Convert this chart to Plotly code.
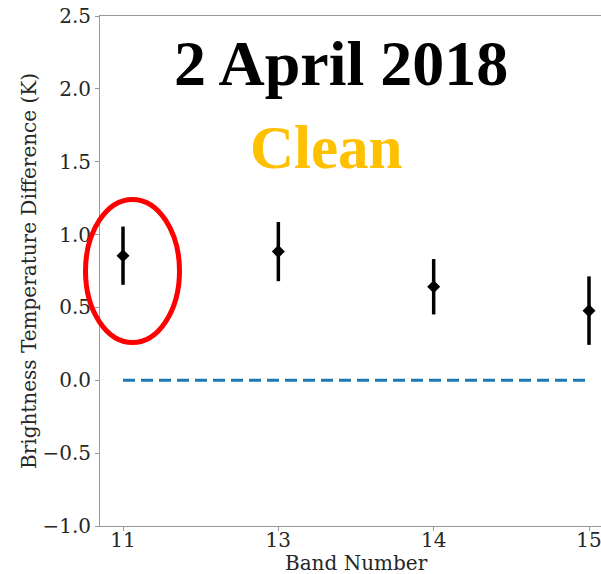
import plotly.graph_objects as go

# Brightness temperature difference per band (K) with 1-sigma spread
bands = ["11", "13", "14", "15"]
bt_diff = [0.855, 0.883, 0.642, 0.478]
bt_err = [0.200, 0.203, 0.190, 0.235]
zero_ref = [0.0, 0.0, 0.0, 0.0]
y_ticks = [-1.0, -0.5, 0.0, 0.5, 1.0, 1.5, 2.0, 2.5]

W, H = 601, 574
L, R, T, B = 100, 0, 16, 48
PW, PH = W - L - R, H - T - B


def px_x(px):
    return (px - L) / PW


def px_y(py):
    return (H - B - py) / PH


serif = "DejaVu Serif"
axis_col = "#9a9a9a"
txt_col = "#262626"

fig = go.Figure()

# zero reference
fig.add_trace(go.Scatter(
    x=bands, y=zero_ref, mode="lines",
    line=dict(color="#1f77b4", width=3, dash="12px,6px"),
    showlegend=False, hoverinfo="skip",
))

# mean difference with error bars
fig.add_trace(go.Scatter(
    x=bands, y=bt_diff, mode="markers",
    marker=dict(symbol="diamond", size=10, color="black"),
    error_y=dict(type="data", array=bt_err, visible=True,
                 color="black", thickness=3.5, width=0),
    showlegend=False,
))

fig.update_layout(
    width=W, height=H,
    margin=dict(l=L, r=R, t=T, b=B, pad=0),
    paper_bgcolor="white", plot_bgcolor="white",
    xaxis=dict(
        type="category", range=[-0.1481, 3.0772],
        showline=True, mirror=True, linecolor=axis_col, linewidth=1,
        ticks="outside", ticklen=4, tickcolor=axis_col,
        ticklabelstandoff=-8,
        showgrid=False, zeroline=False,
        tickfont=dict(family=serif, size=20, color=txt_col),
    ),
    yaxis=dict(
        range=[-1.0, 2.5], tickvals=y_ticks, tickformat=".1f",
        showline=True, mirror=False, linecolor=axis_col, linewidth=1,
        ticks="outside", ticklen=4, tickcolor=axis_col,
        showgrid=False, zeroline=False,
        tickfont=dict(family=serif, size=20, color=txt_col),
    ),
    font=dict(family=serif),
)

annotations = [
    dict(text="Band Number", x=px_x(356), y=px_y(563),
         font=dict(family=serif, size=20, color=txt_col)),
    dict(text="Brightness Temperature Difference (K)", x=px_x(29), y=0.5,
         textangle=-90, font=dict(family=serif, size=20, color=txt_col)),
    dict(text="2 April 2018", x=px_x(340.5), y=px_y(63),
         font=dict(family="Liberation Serif", size=64, color="black",
                   weight="bold")),
    dict(text="Clean", x=px_x(326), y=px_y(148),
         font=dict(family="Liberation Serif", size=61, color="#FFC000",
                   weight="bold")),
]
for a in annotations:
    fig.add_annotation(xref="paper", yref="paper", xanchor="center",
                       yanchor="middle", showarrow=False, **a)

# highlight around band 11
fig.add_shape(type="circle", xref="paper", yref="paper",
              x0=px_x(85.5), x1=px_x(179.5), y0=px_y(342.5), y1=px_y(199.5),
              line=dict(color="red", width=5))

fig.write_html("out.html")
